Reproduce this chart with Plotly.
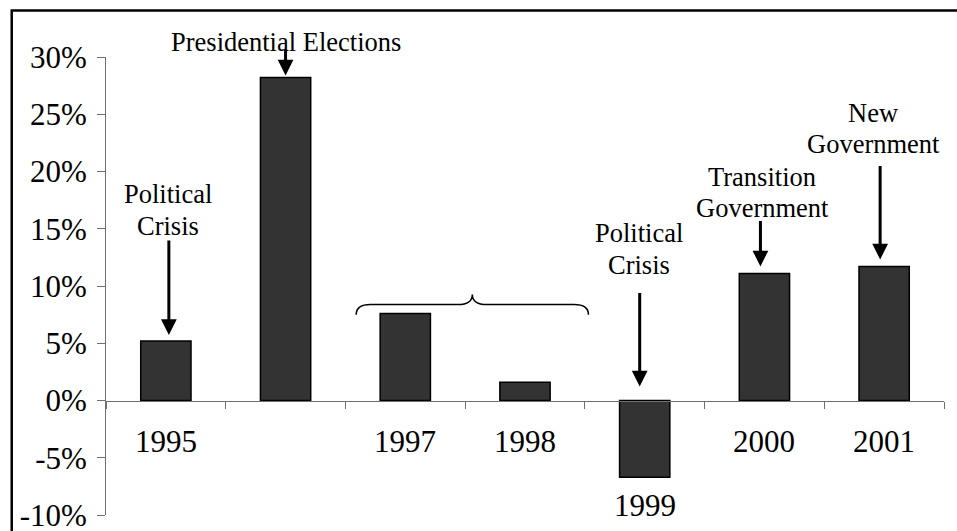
import plotly.graph_objects as go

# ---- data ----
years = ["1995", "1996", "1997", "1998", "1999", "2000", "2001"]
growth = [5.2, 28.2, 7.6, 1.6, -6.7, 11.1, 11.7]          # % change
year_labels = ["1995", "", "1997", "1998", "1999", "2000", "2001"]
y_ticks = [-10, -5, 0, 5, 10, 15, 20, 25, 30]

event_years = ["1995", "1996", "1999", "2000", "2001"]
event_lines = [["Political", "Crisis"], ["Presidential Elections"], ["Political", "Crisis"],
               ["Transition", "Government"], ["New", "Government"]]

FONT = "Liberation Serif"
AXIS_COLOR = "#707070"
idx = list(range(len(years)))
ymin, ymax = y_ticks[0], y_ticks[-1]

fig = go.Figure()
fig.add_trace(go.Bar(
    x=idx, y=growth, width=0.42,
    marker=dict(color="#333333", line=dict(color="black", width=1.5)),
    hoverinfo="skip", showlegend=False,
))

annotations = []
# year labels (1999 sits below its negative bar)
for i, (lab, v) in enumerate(zip(year_labels, growth)):
    if not lab:
        continue
    if v < 0:
        annotations.append(dict(x=i, y=v, xref="x", yref="y", text=lab, showarrow=False,
                                yanchor="middle", yshift=-28, font=dict(size=31, family=FONT, color="black")))
    else:
        annotations.append(dict(x=i, y=0, xref="x", yref="y", text=lab, showarrow=False,
                                yanchor="middle", yshift=-41, font=dict(size=31, family=FONT, color="black")))

# event label styling/placement (layout only); first-line y in data units + pixel shift
text_y = {"1995": 18.03, "1996": 30.0, "1999": 14.67, "2000": 19.48, "2001": 25.11}
text_yshift = {"1995": 0, "1996": 15.5, "1999": 0, "2000": 0, "2001": 0}
line_gap = {"1995": 32, "1996": 32, "1999": 32, "2000": 31, "2001": 31}
text_dx = {"1995": 2, "1996": 0, "1999": -6, "2000": -2, "2001": -11}
arrow_gap = {"1995": 6, "1996": 2, "1999": 14, "2000": 7, "2001": 7}
arrow_len = {"1995": 102, "1996": 29, "1999": 109, "2000": 54, "2001": 102}
arrow_dx = {"1995": 3, "1996": 0, "1999": -5, "2000": -4, "2001": -4}

for yr, lines in zip(event_years, event_lines):
    i = years.index(yr)
    v = growth[i]
    for k, line in enumerate(lines):
        annotations.append(dict(x=i, y=text_y[yr], xref="x", yref="y", text=line, showarrow=False,
                                xshift=text_dx[yr], yshift=text_yshift[yr] - k * line_gap[yr],
                                yanchor="middle", align="center",
                                font=dict(size=26.5, family=FONT, color="black")))
    annotations.append(dict(x=i, y=max(v, 0), xref="x", yref="y", text="", showarrow=True,
                            ax=0, ay=-arrow_len[yr], standoff=arrow_gap[yr], xshift=arrow_dx[yr],
                            arrowhead=2, arrowsize=1.05, arrowwidth=3, arrowcolor="black"))

# curly brace over 1997-1998
i97, i98 = years.index("1997"), years.index("1998")
L, R = i97 - 0.41, i98 + 0.53
C = (L + R) / 2
yb, yh, yp = 7.5, 8.38, 9.26
dxc = 0.12
brace = (f"M {L},{yb} Q {L},{yh} {L+dxc},{yh} L {C-dxc},{yh} Q {C},{yh} {C},{yp} "
         f"Q {C},{yh} {C+dxc},{yh} L {R-dxc},{yh} Q {R},{yh} {R},{yb}")

shapes = [
    dict(type="path", path=brace, xref="x", yref="y", line=dict(color="black", width=1.5)),
    # outer frame (only left and top edges fall inside the image)
    dict(type="rect", xref="paper", yref="paper", x0=-0.1125, x1=1.2, y0=-0.3, y1=1.1015,
         line=dict(color="black", width=2.5), layer="above"),
]

fig.update_layout(
    width=957, height=531,
    margin=dict(l=106, r=13, t=57, b=16, autoexpand=False),
    paper_bgcolor="white", plot_bgcolor="white",
    bargap=0.58,
    font=dict(family=FONT, color="black"),
    xaxis=dict(
        range=[-0.5, len(years) - 0.5],
        tickmode="array", tickvals=[k - 0.5 for k in range(len(years) + 1)],
        showticklabels=False, ticks="outside", ticklen=7, tickcolor=AXIS_COLOR, tickwidth=1,
        showline=True, linecolor=AXIS_COLOR, linewidth=1,
        showgrid=False, zeroline=False, automargin=False,
        anchor="free", position=(0 - ymin) / (ymax - ymin),
    ),
    yaxis=dict(
        range=[ymin, ymax], tickmode="array", tickvals=y_ticks,
        ticktext=[f"{t}%" for t in y_ticks],
        ticks="outside", ticklen=8, tickcolor=AXIS_COLOR, tickwidth=1,
        showline=True, linecolor=AXIS_COLOR, linewidth=1,
        showgrid=False, zeroline=False, automargin=False,
        tickfont=dict(size=31, family=FONT, color="black"),
        ticklabelstandoff=4, ticklabeloverflow="allow",
    ),
    annotations=annotations,
    shapes=shapes,
)

fig.write_html("out.html", config={"displayModeBar": False},
               post_script="document.body.style.margin='0';")
